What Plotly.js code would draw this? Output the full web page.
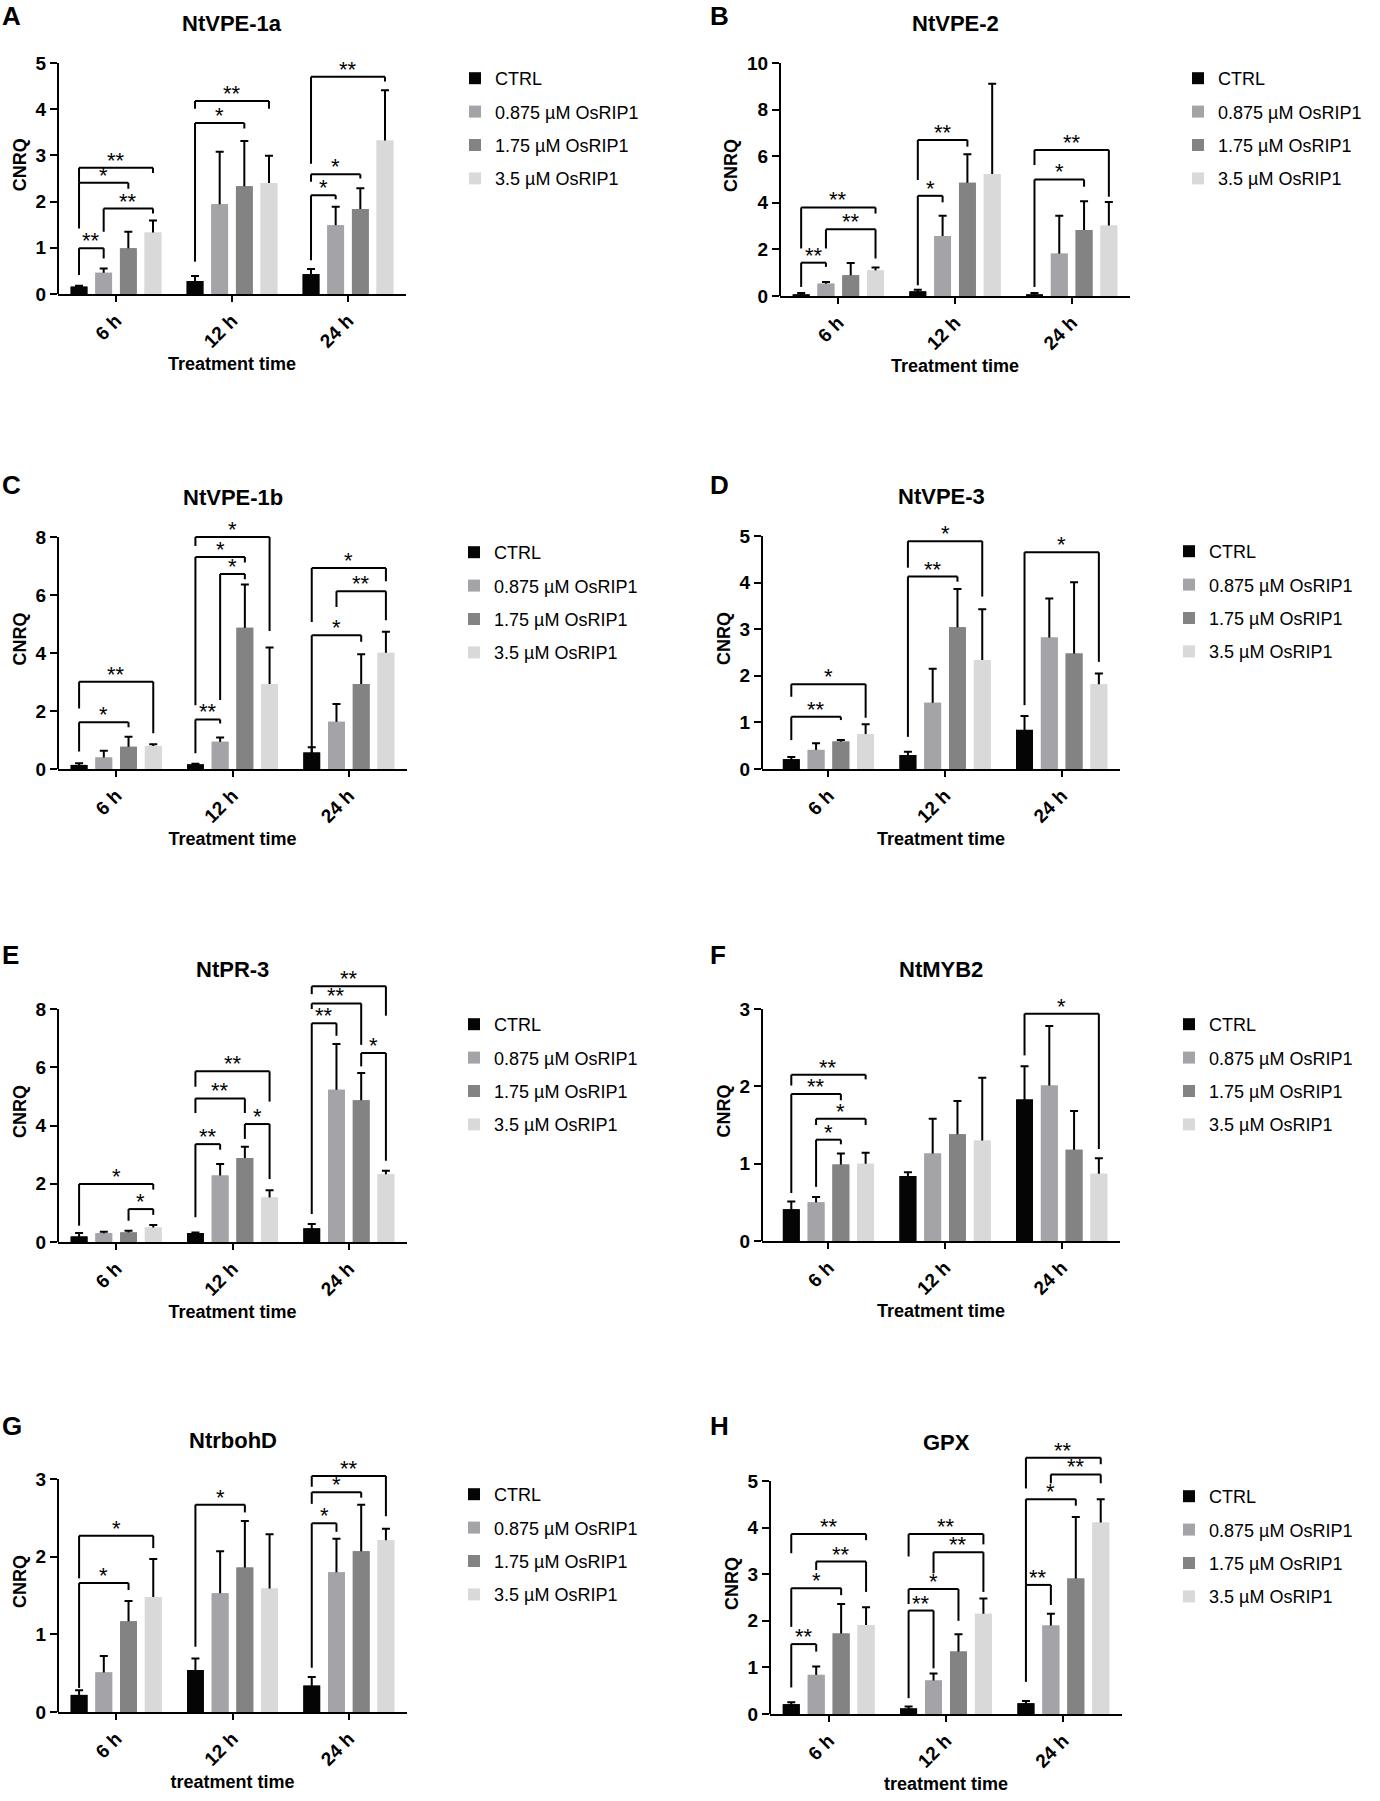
<!DOCTYPE html>
<html>
<head>
<meta charset="utf-8">
<script src="https://cdn.plot.ly/plotly-3.0.1.min.js"></script>
<style>body { margin: 0; background: #fff; }</style>
</head>
<body>
<div id="myDiv"></div>
<script>
// categories and series
let groups = ['6 h', '12 h', '24 h']
let series = ['CTRL', '0.875 µM OsRIP1', '1.75 µM OsRIP1', '3.5 µM OsRIP1']
let colors = ['#050505', '#a4a4a8', '#838383', '#d9d9d9']

// means and sd per series (rows) and time point (columns)
// significance brackets: [time, bar a, bar b, bracket height, left leg end, right leg end, label]

// A NtVPE-1a
let vpe1aMean = [[0.16, 0.28, 0.43], [0.46, 1.94, 1.49], [0.99, 2.33, 1.84], [1.33, 2.40, 3.32]]
let vpe1aSd = [[0.02, 0.11, 0.11], [0.09, 1.14, 0.40], [0.36, 0.98, 0.45], [0.26, 0.59, 1.09]]
let vpe1aSig = [
  [0, 0, 1, 0.99, 0.41, 0.77, '**'], [0, 1, 3, 1.85, 1.35, 1.74, '**'],
  [0, 0, 2, 2.41, 1.42, 2.28, '*'], [0, 0, 3, 2.73, 2.41, 2.62, '**'],
  [1, 0, 2, 3.70, 0.70, 3.58, '*'], [1, 0, 3, 4.18, 4.01, 4.01, '**'],
  [2, 0, 1, 2.14, 0.73, 2.05, '*'], [2, 0, 2, 2.59, 2.43, 2.50, '*'], [2, 0, 3, 4.70, 2.82, 4.60, '**']
]

// B NtVPE-2
let vpe2Mean = [[0.07, 0.20, 0.07], [0.53, 2.58, 1.82], [0.89, 4.86, 2.83], [1.10, 5.24, 3.03]]
let vpe2Sd = [[0.06, 0.07, 0.06], [0.07, 0.86, 1.62], [0.53, 1.22, 1.24], [0.12, 3.87, 1.00]]
let vpe2Sig = [
  [0, 0, 1, 1.43, 0.39, 1.25, '**'], [0, 1, 3, 2.86, 2.04, 1.61, '**'], [0, 0, 3, 3.80, 2.04, 3.54, '**'],
  [1, 0, 1, 4.30, 0.46, 4.02, '*'], [1, 0, 2, 6.70, 4.98, 6.41, '**'],
  [2, 0, 2, 5.00, 0.39, 4.69, '*'], [2, 0, 3, 6.27, 5.62, 4.26, '**']
]

// C NtVPE-1b
let vpe1bMean = [[0.14, 0.16, 0.57], [0.40, 0.94, 1.63], [0.77, 4.87, 2.93], [0.79, 2.93, 4.01]]
let vpe1bSd = [[0.06, 0.02, 0.18], [0.23, 0.15, 0.61], [0.34, 1.49, 1.03], [0.06, 1.26, 0.72]]
let vpe1bSig = [
  [0, 0, 2, 1.61, 0.60, 1.44, '*'], [0, 0, 3, 3.01, 2.09, 1.23, '**'],
  [1, 0, 1, 1.71, 0.54, 1.57, '**'], [1, 1, 2, 6.72, 2.38, 6.54, '*'],
  [1, 0, 2, 7.31, 2.20, 7.12, '*'], [1, 0, 3, 8.00, 7.69, 4.76, '*'],
  [2, 0, 2, 4.61, 0.37, 4.39, '*'], [2, 1, 3, 6.13, 5.59, 5.13, '**'], [2, 0, 3, 6.93, 5.07, 6.47, '*']
]

// D NtVPE-3
let vpe3Mean = [[0.21, 0.30, 0.84], [0.41, 1.42, 2.82], [0.59, 3.04, 2.48], [0.75, 2.34, 1.82]]
let vpe3Sd = [[0.05, 0.07, 0.30], [0.14, 0.73, 0.84], [0.03, 0.82, 1.53], [0.21, 1.09, 0.23]]
let vpe3Sig = [
  [0, 0, 2, 1.12, 0.62, 1.05, '**'], [0, 0, 3, 1.82, 1.55, 1.10, '*'],
  [1, 0, 2, 4.13, 0.69, 4.02, '**'], [1, 0, 3, 4.89, 4.32, 3.70, '*'],
  [2, 0, 3, 4.65, 1.37, 2.30, '*']
]

// E NtPR-3
let pr3Mean = [[0.19, 0.31, 0.47], [0.30, 2.28, 5.23], [0.33, 2.88, 4.87], [0.50, 1.53, 2.33]]
let pr3Sd = [[0.12, 0.02, 0.15], [0.05, 0.40, 1.57], [0.06, 0.39, 0.93], [0.08, 0.25, 0.12]]
let pr3Sig = [
  [0, 2, 3, 1.13, 0.73, 0.93, '*'], [0, 0, 3, 1.99, 0.56, 1.80, '*'],
  [1, 0, 1, 3.36, 0.85, 3.17, '**'], [1, 2, 3, 4.05, 3.54, 2.16, '*'],
  [1, 0, 2, 4.93, 4.43, 4.43, '**'], [1, 0, 3, 5.86, 5.33, 4.82, '**'],
  [2, 0, 1, 7.51, 0.96, 7.08, '**'], [2, 2, 3, 6.49, 6.03, 2.79, '*'],
  [2, 0, 2, 8.19, 8.00, 6.77, '**'], [2, 0, 3, 8.78, 8.51, 7.77, '**']
]

// F NtMYB2
let myb2Mean = [[0.41, 0.84, 1.83], [0.50, 1.13, 2.01], [0.99, 1.38, 1.18], [1.00, 1.30, 0.87]]
let myb2Sd = [[0.10, 0.05, 0.43], [0.07, 0.45, 0.77], [0.14, 0.43, 0.50], [0.14, 0.81, 0.20]]
let myb2Sig = [
  [0, 1, 2, 1.31, 0.70, 1.25, '*'], [0, 1, 3, 1.58, 1.50, 1.50, '*'],
  [0, 0, 2, 1.90, 0.62, 1.82, '**'], [0, 0, 3, 2.15, 2.01, 2.09, '**'],
  [2, 0, 3, 2.94, 2.40, 1.19, '*']
]

// G NtrbohD
let rbohdMean = [[0.22, 0.54, 0.34], [0.51, 1.53, 1.80], [1.17, 1.86, 2.07], [1.48, 1.59, 2.21]]
let rbohdSd = [[0.06, 0.15, 0.11], [0.21, 0.54, 0.43], [0.26, 0.60, 0.60], [0.49, 0.70, 0.15]]
let rbohdSig = [
  [0, 0, 2, 1.66, 0.31, 1.57, '*'], [0, 0, 3, 2.27, 1.72, 2.11, '*'],
  [1, 0, 2, 2.67, 0.84, 2.57, '*'],
  [2, 0, 1, 2.43, 0.57, 2.32, '*'], [2, 0, 2, 2.83, 2.68, 2.76, '*'], [2, 0, 3, 3.04, 2.90, 2.52, '**']
]

// H GPX
let gpxMean = [[0.21, 0.12, 0.23], [0.84, 0.72, 1.90], [1.73, 1.34, 2.91], [1.91, 2.15, 4.11]]
let gpxSd = [[0.04, 0.04, 0.05], [0.18, 0.15, 0.25], [0.63, 0.37, 1.32], [0.38, 0.33, 0.50]]
let gpxSig = [
  [0, 0, 1, 1.50, 0.57, 1.34, '**'], [0, 0, 2, 2.70, 1.87, 2.55, '*'],
  [0, 1, 3, 3.27, 3.09, 2.62, '**'], [0, 0, 3, 3.86, 3.45, 3.73, '**'],
  [1, 0, 1, 2.22, 0.34, 0.98, '**'], [1, 0, 2, 2.68, 2.36, 2.00, '*'],
  [1, 1, 3, 3.47, 3.02, 2.62, '**'], [1, 0, 3, 3.86, 3.38, 3.64, '**'],
  [2, 0, 1, 2.77, 0.69, 2.34, '**'], [2, 0, 2, 4.61, 2.77, 4.47, '*'],
  [2, 1, 3, 5.14, 4.95, 4.95, '**'], [2, 0, 3, 5.50, 4.84, 5.36, '**']
]

let panels = [
  {letter: 'A', title: 'NtVPE-1a', mean: vpe1aMean, sd: vpe1aSd, sig: vpe1aSig, top: 5, step: 1, xtitle: 'Treatment time'},
  {letter: 'B', title: 'NtVPE-2', mean: vpe2Mean, sd: vpe2Sd, sig: vpe2Sig, top: 10, step: 2, xtitle: 'Treatment time'},
  {letter: 'C', title: 'NtVPE-1b', mean: vpe1bMean, sd: vpe1bSd, sig: vpe1bSig, top: 8, step: 2, xtitle: 'Treatment time'},
  {letter: 'D', title: 'NtVPE-3', mean: vpe3Mean, sd: vpe3Sd, sig: vpe3Sig, top: 5, step: 1, xtitle: 'Treatment time'},
  {letter: 'E', title: 'NtPR-3', mean: pr3Mean, sd: pr3Sd, sig: pr3Sig, top: 8, step: 2, xtitle: 'Treatment time'},
  {letter: 'F', title: 'NtMYB2', mean: myb2Mean, sd: myb2Sd, sig: myb2Sig, top: 3, step: 1, xtitle: 'Treatment time'},
  {letter: 'G', title: 'NtrbohD', mean: rbohdMean, sd: rbohdSd, sig: rbohdSig, top: 3, step: 1, xtitle: 'treatment time'},
  {letter: 'H', title: 'GPX', mean: gpxMean, sd: gpxSd, sig: gpxSig, top: 5, step: 1, xtitle: 'treatment time'}
]

// where each panel sits (pixels): x axis ends, top tick and zero line,
// start of category range, panel letter, legend text start
let boxes = [
  {l: 58, r: 406, top: 63, zero: 294, lo: -0.5, lx: 0, ly: 16, legX: 499},
  {l: 780, r: 1130, top: 63, zero: 296, lo: -0.5, lx: 708, ly: 16, legX: 1222},
  {l: 58, r: 407, top: 537, zero: 769, lo: -0.5, lx: 0, ly: 485, legX: 498},
  {l: 762, r: 1120, top: 536, zero: 769, lo: -0.57, lx: 708, ly: 485, legX: 1213},
  {l: 58, r: 407, top: 1009, zero: 1242, lo: -0.5, lx: 0, ly: 955, legX: 498},
  {l: 762, r: 1120, top: 1009, zero: 1241, lo: -0.57, lx: 708, ly: 955, legX: 1213},
  {l: 58, r: 407, top: 1479, zero: 1712, lo: -0.5, lx: 0, ly: 1426, legX: 498},
  {l: 770, r: 1122, top: 1481, zero: 1714, lo: -0.5, lx: 708, ly: 1426, legX: 1213}
]

let W = 1380
let H = 1801
let fam = 'Liberation Sans, Arial, sans-serif'
let bargap = 0.15
let slot = (1 - bargap) / 4
let head = 1.12 // room above the top tick for the brackets

// x position of bar k in time group g (category units)
function barX (g, k) {
  return g + (k - 1.5) * slot
}

let traces = []
let layout = {
  width: W, height: H,
  margin: {l: 0, r: 0, t: 0, b: 0},
  paper_bgcolor: '#fff', plot_bgcolor: 'rgba(0,0,0,0)',
  barmode: 'group', bargap: bargap, bargroupgap: 0.32,
  font: {family: fam, color: '#000'},
  hovermode: false,
  shapes: [], annotations: []
}

panels.forEach((p, i) => {
  let s = i ? i + 1 : ''
  let b = boxes[i]
  let xa = 'x' + s
  let ya = 'y' + s

  // bars: first copy carries the error bar, second copy on top hides its lower half
  for (let k = 0; k < 4; k++) {
    let grp = 'p' + i + 's' + k
    traces.push({
      type: 'bar', x: groups, y: p.mean[k], xaxis: xa, yaxis: ya,
      offsetgroup: 'k' + k, legendgroup: grp, legend: 'legend' + s, showlegend: false,
      marker: {color: colors[k]},
      error_y: {type: 'data', array: p.sd[k], visible: true, color: '#000', thickness: 2, width: 4}
    })
    traces.push({
      type: 'bar', x: groups, y: p.mean[k], xaxis: xa, yaxis: ya, name: series[k],
      offsetgroup: 'k' + k, legendgroup: grp, legend: 'legend' + s,
      marker: {color: colors[k]}
    })
  }

  let topPx = b.zero - (b.zero - b.top) * head
  let ticks = []
  for (let t = 0; t <= p.top; t += p.step) ticks.push(t)

  layout['xaxis' + s] = {
    domain: [b.l / W, b.r / W], anchor: ya, type: 'category', range: [b.lo, 2.5],
    tickmode: 'array', tickvals: groups, ticktext: groups.map(g => '<b>' + g + '</b>'),
    showline: true, linewidth: 2, linecolor: '#000', showgrid: false, zeroline: false,
    ticks: 'outside', ticklen: 6, tickwidth: 2, tickcolor: '#000', tickangle: -45,
    tickfont: {size: 19},
    title: {text: '<b>' + p.xtitle + '</b>', font: {size: 18}, standoff: 7}
  }
  layout['yaxis' + s] = {
    domain: [1 - b.zero / H, 1 - topPx / H], anchor: xa, range: [0, p.top * head],
    tickmode: 'array', tickvals: ticks, ticktext: ticks.map(t => '<b>' + t + '</b>'),
    showline: false, showgrid: false, zeroline: false,
    ticks: 'outside', ticklen: 7, tickwidth: 2, tickcolor: '#000',
    tickfont: {size: 19},
    title: {text: '<b>CNRQ</b>', font: {size: 18}, standoff: 4}
  }
  layout['legend' + s] = {
    x: (b.legX - 44) / W, xanchor: 'left', y: 1 - (b.top - 3) / H, yanchor: 'top',
    font: {size: 18}, bgcolor: 'rgba(0,0,0,0)', traceorder: 'grouped', tracegroupgap: 7
  }

  // y axis line stops at the top tick
  layout.shapes.push({type: 'line', xref: xa + ' domain', yref: ya, x0: 0, x1: 0, y0: 0, y1: p.top,
    line: {color: '#000', width: 2}})

  // significance brackets
  p.sig.forEach(d => {
    let x0 = barX(d[0], d[1])
    let x1 = barX(d[0], d[2])
    let ln = {color: '#000', width: 2}
    layout.shapes.push({type: 'line', xref: xa, yref: ya, x0: x0, x1: x0, y0: d[4], y1: d[3], line: ln})
    layout.shapes.push({type: 'line', xref: xa, yref: ya, x0: x0, x1: x1, y0: d[3], y1: d[3], line: ln})
    layout.shapes.push({type: 'line', xref: xa, yref: ya, x0: x1, x1: x1, y0: d[3], y1: d[5], line: ln})
    layout.annotations.push({xref: xa, yref: ya, x: (x0 + x1) / 2, y: d[3], text: d[6], showarrow: false,
      xanchor: 'center', yanchor: 'bottom', yshift: -7, font: {size: 22}})
  })

  // panel title and letter
  layout.annotations.push({xref: 'paper', yref: 'paper', x: (b.l + b.r) / 2 / W, y: 1 - (b.top - 39) / H,
    text: '<b>' + p.title + '</b>', showarrow: false, xanchor: 'center', yanchor: 'middle', font: {size: 22}})
  layout.annotations.push({xref: 'paper', yref: 'paper', x: b.lx / W, y: 1 - b.ly / H,
    text: '<b>' + p.letter + '</b>', showarrow: false, xanchor: 'left', yanchor: 'middle', font: {size: 26}})
})

Plotly.newPlot('myDiv', traces, layout, {displayModeBar: false, staticPlot: true})
</script>
</body>
</html>
